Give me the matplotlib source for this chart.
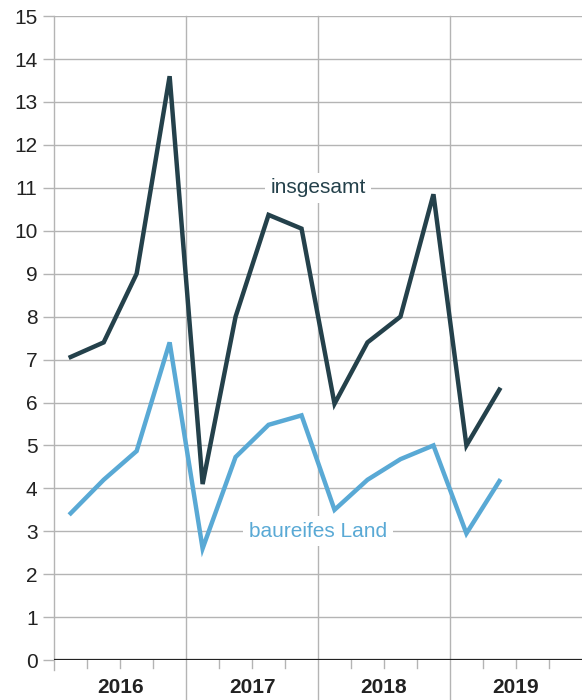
import numpy as np
import matplotlib.pyplot as plt

plt.rcParams['font.family'] = ['Liberation Sans', 'DejaVu Sans']

years = ["2016", "2017", "2018", "2019"]
insgesamt = [7.06, 7.4, 9.0, 13.6, 4.1, 8.0, 10.37, 10.05, 5.97, 7.4, 8.0, 10.85, 5.0, 6.3]
baureifes_land = [3.42, 4.2, 4.87, 7.4, 2.6, 4.73, 5.48, 5.7, 3.5, 4.2, 4.68, 5.0, 2.95, 4.17]

dark = "#24414b"
light = "#59a9d5"
grid = "#b4b4b4"

fig = plt.figure(figsize=(5.83, 7.0), dpi=100)
ax = fig.add_axes([0.093, 0.057, 0.905, 0.92])

x = np.arange(len(insgesamt)) + 0.5  # quarter midpoints
ax.set_xlim(0, 16)
ax.set_ylim(0, 15)

for sp in ax.spines.values():
    sp.set_visible(False)

# horizontal grid lines
for v in range(1, 16):
    ax.axhline(v, color=grid, lw=1.0, zorder=1)
ax.axhline(0, color="#222222", lw=1.6, zorder=3)

# year boundaries, extending down into the label area
for b in [0, 4, 8, 12]:
    ax.axvline(b, ymin=-0.06 if b > 0 else -0.015, ymax=1, color=grid, lw=1.0,
               clip_on=False, zorder=1)
# quarter ticks
for q in range(1, 16):
    if q % 4:
        ax.axvline(q, ymin=-0.012, ymax=0, color=grid, lw=1.0, clip_on=False)

ax.plot(x, insgesamt, color=dark, lw=3.2, zorder=4, solid_joinstyle="miter")
ax.plot(x, baureifes_land, color=light, lw=3.2, zorder=4, solid_joinstyle="miter")

ax.set_yticks(range(0, 16))
ax.tick_params(axis="y", length=8, width=1.0, color=grid, labelsize=15,
               pad=4, labelcolor="#222222")
ax.set_xticks([2, 6, 10, 14])
ax.set_xticklabels(years, fontsize=15, fontweight="bold", color="#222222")
ax.tick_params(axis="x", length=0, pad=13)

ax.text(8.0, 11.0, "insgesamt", color=dark, fontsize=15, ha="center", va="center",
        zorder=5, bbox=dict(facecolor="white", edgecolor="none", pad=4))
ax.text(8.0, 3.0, "baureifes Land", color=light, fontsize=15, ha="center",
        va="center", zorder=5, bbox=dict(facecolor="white", edgecolor="none", pad=4))

fig.savefig("out.png", dpi=100)
